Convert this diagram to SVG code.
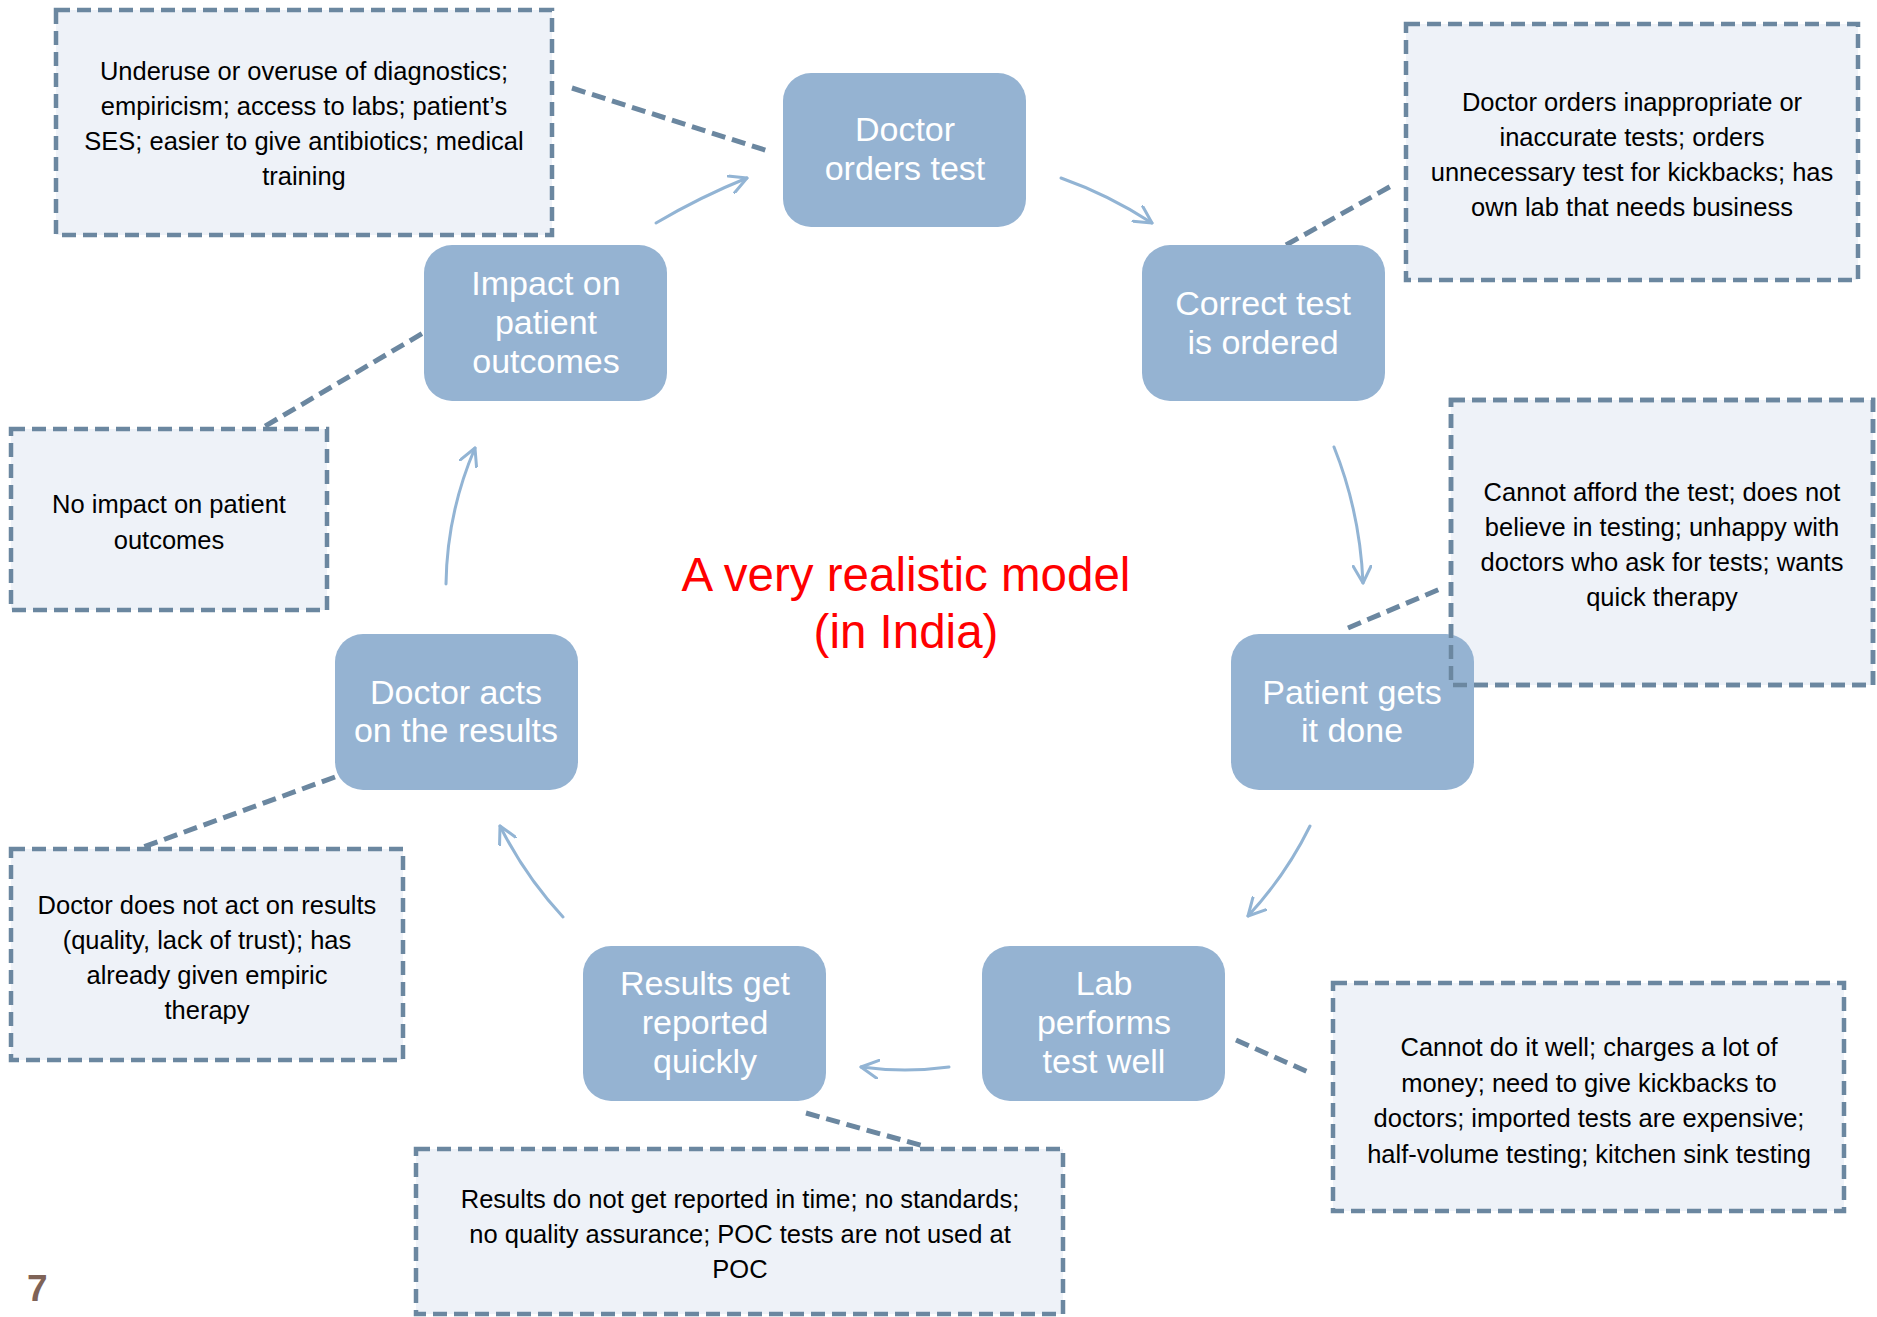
<svg xmlns="http://www.w3.org/2000/svg" width="1877" height="1317" viewBox="0 0 1877 1317">
<style>
.box{fill:#EEF2F8;stroke:#6B87A0;stroke-width:4.5;stroke-dasharray:14 7}
.boxline{fill:none;stroke:#6B87A0;stroke-width:4.5;stroke-dasharray:14 7}
.dash{fill:none;stroke:#6B87A0;stroke-width:5;stroke-dasharray:14 7}
.arrow{fill:none;stroke:#92B4D4;stroke-width:3;stroke-linecap:round;marker-end:url(#ah)}
.node{fill:#95B3D2}
.nt{font-family:"Liberation Sans",Arial,sans-serif;font-size:34px;fill:#FFFFFF;text-anchor:middle}
.bt{font-family:"Liberation Sans",Arial,sans-serif;font-size:25.5px;fill:#000000;text-anchor:middle}
.title{font-family:"Liberation Sans",Arial,sans-serif;font-size:47.5px;fill:#FF0000;text-anchor:middle}
</style>
<defs>
<marker id="ah" viewBox="0 0 20 20" refX="18" refY="10" markerWidth="20" markerHeight="20" markerUnits="userSpaceOnUse" orient="auto">
<path d="M1,1 L18,10 L1,19" fill="none" stroke="#92B4D4" stroke-width="3" stroke-linecap="round" stroke-linejoin="round"/>
</marker>
</defs>
<rect width="1877" height="1317" fill="#FFFFFF"/>

<g id="connectors">
<line class="dash" x1="572" y1="88" x2="771" y2="152"/>
<line class="dash" x1="440" y1="323" x2="262" y2="428"/>
<line class="dash" x1="1286" y1="245" x2="1393" y2="185"/>
<line class="dash" x1="1348" y1="628" x2="1440" y2="589"/>
<line class="dash" x1="335" y1="777" x2="138" y2="849"/>
<line class="dash" x1="1236" y1="1040" x2="1308" y2="1072"/>
<line class="dash" x1="806" y1="1113" x2="927" y2="1147"/>
<path class="arrow" d="M656,223 Q700,197 747,178"/>
<path class="arrow" d="M1061,178 Q1109,195 1152,223"/>
<path class="arrow" d="M1334,447 Q1360,512 1363,583"/>
<path class="arrow" d="M1310,826 Q1286,875 1248,916"/>
<path class="arrow" d="M949,1067 Q905,1073 861,1067"/>
<path class="arrow" d="M563,917 Q525,876 500,826"/>
<path class="arrow" d="M446,584 Q447,513 475,448"/>
</g>

<g id="box-diagnostics">
<rect class="box" x="56" y="10" width="496" height="225"/>
<text class="bt" x="304" y="80">Underuse or overuse of diagnostics;</text>
<text class="bt" x="304" y="115">empiricism; access to labs; patient’s</text>
<text class="bt" x="304" y="150">SES; easier to give antibiotics; medical</text>
<text class="bt" x="304" y="185">training</text>
</g>
<g id="box-orders">
<rect class="box" x="1406" y="24" width="452" height="256"/>
<text class="bt" x="1632" y="111">Doctor orders inappropriate or</text>
<text class="bt" x="1632" y="146">inaccurate tests; orders</text>
<text class="bt" x="1632" y="181">unnecessary test for kickbacks; has</text>
<text class="bt" x="1632" y="216">own lab that needs business</text>
</g>
<g id="box-patient">
<rect class="box" x="1451" y="400" width="422" height="285"/>
<text class="bt" x="1662" y="501">Cannot afford the test; does not</text>
<text class="bt" x="1662" y="536">believe in testing; unhappy with</text>
<text class="bt" x="1662" y="571">doctors who ask for tests; wants</text>
<text class="bt" x="1662" y="606">quick therapy</text>
</g>
<g id="box-impact">
<rect class="box" x="11" y="429" width="316" height="181"/>
<text class="bt" x="169" y="513">No impact on patient</text>
<text class="bt" x="169" y="549">outcomes</text>
</g>
<g id="box-acts">
<rect class="box" x="11" y="849" width="392" height="211"/>
<text class="bt" x="207" y="914">Doctor does not act on results</text>
<text class="bt" x="207" y="949">(quality, lack of trust); has</text>
<text class="bt" x="207" y="984">already given empiric</text>
<text class="bt" x="207" y="1019">therapy</text>
</g>
<g id="box-results">
<rect class="box" x="416" y="1149" width="647" height="165"/>
<text class="bt" x="740" y="1208">Results do not get reported in time; no standards;</text>
<text class="bt" x="740" y="1243">no quality assurance; POC tests are not used at</text>
<text class="bt" x="740" y="1278">POC</text>
</g>
<g id="box-lab">
<rect class="box" x="1333" y="983" width="511" height="228"/>
<text class="bt" x="1589" y="1056">Cannot do it well; charges a lot of</text>
<text class="bt" x="1589" y="1092">money; need to give kickbacks to</text>
<text class="bt" x="1589" y="1127">doctors; imported tests are expensive;</text>
<text class="bt" x="1589" y="1163">half-volume testing; kitchen sink testing</text>
</g>

<g id="node-doctor-orders">
<rect class="node" x="783" y="73" width="243" height="154" rx="28"/>
<text class="nt" x="905" y="141">Doctor</text>
<text class="nt" x="905" y="180">orders test</text>
</g>
<g id="node-correct-test">
<rect class="node" x="1142" y="245" width="243" height="156" rx="28"/>
<text class="nt" x="1263" y="315">Correct test</text>
<text class="nt" x="1263" y="354">is ordered</text>
</g>
<g id="node-patient">
<rect class="node" x="1231" y="634" width="243" height="156" rx="28"/>
<text class="nt" x="1352" y="704">Patient gets</text>
<text class="nt" x="1352" y="742">it done</text>
</g>
<g id="node-lab">
<rect class="node" x="982" y="946" width="243" height="155" rx="28"/>
<text class="nt" x="1104" y="995">Lab</text>
<text class="nt" x="1104" y="1034">performs</text>
<text class="nt" x="1104" y="1073">test well</text>
</g>
<g id="node-results">
<rect class="node" x="583" y="946" width="243" height="155" rx="28"/>
<text class="nt" x="705" y="995">Results get</text>
<text class="nt" x="705" y="1034">reported</text>
<text class="nt" x="705" y="1073">quickly</text>
</g>
<g id="node-doctor-acts">
<rect class="node" x="335" y="634" width="243" height="156" rx="28"/>
<text class="nt" x="456" y="704">Doctor acts</text>
<text class="nt" x="456" y="742">on the results</text>
</g>
<g id="node-impact">
<rect class="node" x="424" y="245" width="243" height="156" rx="28"/>
<text class="nt" x="546" y="295">Impact on</text>
<text class="nt" x="546" y="334">patient</text>
<text class="nt" x="546" y="373">outcomes</text>
</g>
<rect class="boxline" x="1451" y="400" width="422" height="285"/>

<g id="title">
<text class="title" x="906" y="591">A very realistic model</text>
<text class="title" x="906" y="648">(in India)</text>
</g>
<text x="27" y="1301" font-family="'Liberation Sans',Arial,sans-serif" font-size="37" font-weight="bold" fill="#7F6357">7</text>
</svg>
